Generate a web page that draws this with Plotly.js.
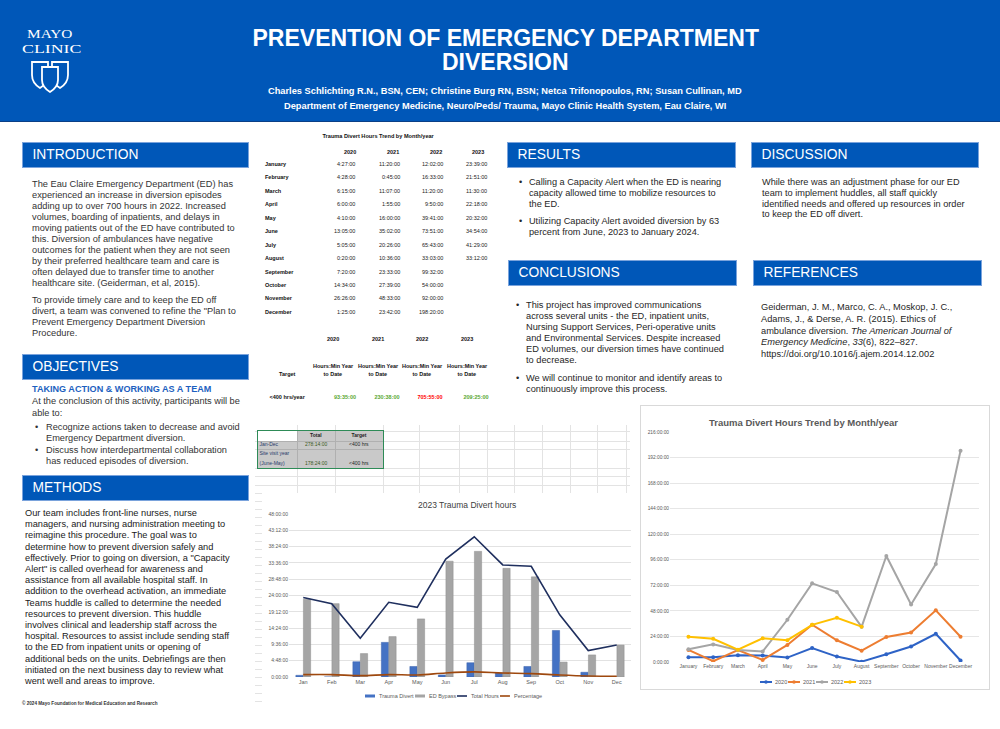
<!DOCTYPE html>
<html><head><meta charset="utf-8">
<script src="https://cdn.plot.ly/plotly-3.0.1.min.js"></script>
<style>
body{margin:0;background:#fff;}
#poster{position:relative;width:1000px;height:729px;overflow:hidden;background:#fff;font-family:'Liberation Sans',Arial,sans-serif;}
.t{position:absolute;white-space:nowrap;line-height:1;}
</style></head><body><div id="poster"></div>
<script>
// ---------------- DATA ----------------
const months = ['January','February','March','April','May','June','July','August','September','October','November','December'];
const monthAbbr = ['Jan','Feb','Mar','Apr','May','Jun','Jul','Aug','Sep','Oct','Nov','Dec'];
const years = ['2020','2021','2022','2023'];
const divert2020 = ['4:27:00','4:28:00','6:15:00','6:00:00','4:10:00','13:05:00','5:05:00','0:20:00','7:20:00','14:34:00','26:26:00','1:25:00'];
const divert2021 = ['11:20:00','0:45:00','11:07:00','1:55:00','16:00:00','35:02:00','20:26:00','10:36:00','23:33:00','27:39:00','48:33:00','23:42:00'];
const divert2022 = ['12:02:00','16:33:00','11:20:00','9:50:00','39:41:00','73:51:00','65:43:00','33:03:00','99:32:00','54:00:00','92:00:00','198:20:00'];
const divert2023 = ['23:39:00','21:51:00','11:30:00','22:18:00','20:32:00','34:54:00','41:29:00','33:12:00'];
const ytdTotals = ['93:35:00','230:38:00','705:55:00','209:25:00'];
const targetText = '<400 hrs/year';
const targetHours = 400;
const summaryLabels = [['Jan-Dec'], ['Site visit year','(June-May)']];
const summaryTotals = ['278:14:00','178:24:00'];
const summaryTargets = ['<400 hrs','<400 hrs'];

// 2023 chart (hours)
const traumaDivert2023 = [0.5, 0, 4.5, 10.2, 3.1, 0.6, 4.2, 1.2, 3.1, 13.7, 1.4, 0];
const edBypass2023 = [22.9, 21.6, 6.9, 11.9, 17.1, 34.1, 37.0, 32.0, 29.5, 4.4, 6.5, 9.4];
const totalHours2023 = [23.4, 21.6, 11.4, 22.0, 20.5, 34.7, 41.3, 33.0, 32.6, 18.3, 7.8, 9.4];
const percentage2023 = [0.7, 0.7, 0.4, 0.7, 0.6, 1.2, 1.5, 1.2, 1.0, 0.6, 0.3, 0.2];
const barSeriesNames = ['Trauma Divert','ED Bypass','Total Hours','Percentage'];
const barTickLabels = ['0:00:00','4:48:00','9:36:00','14:24:00','19:12:00','24:00:00','28:48:00','33:36:00','38:24:00','43:12:00','48:00:00'];
const lineTickLabels = ['0:00:00','24:00:00','48:00:00','72:00:00','96:00:00','120:00:00','144:00:00','168:00:00','192:00:00','216:00:00'];

// ---------------- HELPERS ----------------
const P = document.getElementById('poster');
const FAM = "'Liberation Sans', Arial, sans-serif";
const hrs = s => { const p = s.split(':').map(Number); return p[0] + p[1]/60 + (p[2]||0)/3600; };
const cv = document.createElement('canvas').getContext('2d');
function measure(s, size, bold, fam){ cv.font = (bold?'bold ':'') + size + 'px ' + (fam||FAM); return cv.measureText(s).width; }
function sizeFor(s, w, bold, fam){ return 20 * w / measure(s, 20, bold, fam); }
function txt(x, y, s, o){
  o = o || {};
  const d = document.createElement('div'); d.className = 't';
  d.innerHTML = s;
  const size = o.size || 9.3;
  const lh = o.lh || 1;
  d.style.fontSize = size + 'px';
  d.style.lineHeight = lh;
  d.style.color = o.color || '#262626';
  if (o.bold) d.style.fontWeight = 'bold';
  if (o.italic) d.style.fontStyle = 'italic';
  if (o.family) d.style.fontFamily = o.family;
  d.style.top = (y - 0.55*size + (1-lh)*size/2) + 'px';
  P.appendChild(d);
  let w = d.offsetWidth;
  if (o.fitW){ const sc = o.fitW / w; d.style.transform = 'scaleX(' + sc + ')'; d.style.transformOrigin = 'left top'; w = o.fitW; }
  let left = x;
  if (o.align === 'center') left = x - w/2; else if (o.align === 'right') left = x - w;
  d.style.left = left + 'px';
  return d;
}
function rect(x, y, w, h, css){ const d = document.createElement('div'); d.style.position='absolute'; d.style.left=x+'px'; d.style.top=y+'px'; d.style.width=w+'px'; d.style.height=h+'px'; Object.assign(d.style, css||{}); P.appendChild(d); return d; }
function block(x, y0, dy, lines, size, o){ lines.forEach((l,i)=>{ if(l!==null) txt(x, y0 + i*dy, l, Object.assign({size:size}, o||{})); }); }

// ---------------- HEADER ----------------
rect(0, 0, 1000, 121, {background:'#0057b8', borderBottom:'1px solid #0a3f86'});
const titleSize = sizeFor('PREVENTION OF EMERGENCY DEPARTMENT', 507, true);
txt(505.5, 40, 'PREVENTION OF EMERGENCY DEPARTMENT', {size:titleSize, bold:true, color:'#fff', align:'center'});
txt(505.5, 64, 'DIVERSION', {size:titleSize, bold:true, color:'#fff', align:'center'});
const auth1 = 'Charles Schlichting R.N., BSN, CEN; Christine Burg RN, BSN; Netca Trifonopoulos, RN; Susan Cullinan, MD';
const authSize = sizeFor(auth1, 474, true);
txt(505, 92, auth1, {size:authSize, bold:true, color:'#fff', align:'center'});
txt(505, 107, 'Department of Emergency Medicine, Neuro/Peds/ Trauma, Mayo Clinic Health System, Eau Claire, WI', {size:authSize, bold:true, color:'#fff', align:'center'});
// logo
const SERIF = "'Liberation Serif','DejaVu Serif',serif";
txt(27, 34, 'MAYO', {size:13, color:'#fff', family:SERIF, fitW:46});
txt(22, 49, 'CLINIC', {size:13, color:'#fff', family:SERIF, fitW:59});
const logo = document.createElementNS('http://www.w3.org/2000/svg','svg');
logo.setAttribute('width','42'); logo.setAttribute('height','34');
logo.style.position='absolute'; logo.style.left='30px'; logo.style.top='60px';
logo.innerHTML = '<g fill="#0057b8" stroke="#fff" stroke-width="1.8">'
 + '<path d="M2,2 H18 V15 Q18,23 10,28 Q2,23 2,15 Z"/>'
 + '<path d="M22,2 H38 V15 Q38,23 30,28 Q22,23 22,15 Z"/>'
 + '<path d="M12,7 H28 V20 Q28,27 20,32 Q12,27 12,20 Z"/></g>';
P.appendChild(logo);

// ---------------- SECTION HEADERS ----------------
const hdrSize = sizeFor('INTRODUCTION', 106, false);
function section(x, y, w, label){ rect(x, y, w, 26, {background:'#0057b8', border:'1px solid #7aa3dc', boxSizing:'border-box'}); txt(x+10.5, y+13.5, label, {size:hdrSize, color:'#fff'}); }
section(22, 142, 227, 'INTRODUCTION');
section(22, 354, 227, 'OBJECTIVES');
section(22, 475, 227, 'METHODS');
section(507, 142, 229, 'RESULTS');
section(751, 142, 228, 'DISCUSSION');
section(508, 260, 229, 'CONCLUSIONS');
section(753, 260, 229, 'REFERENCES');

// ---------------- BODY TEXT ----------------
const introLines = ['The Eau Claire Emergency Department (ED) has','experienced an increase in diversion episodes','adding up to over 700 hours in 2022. Increased','volumes, boarding of inpatients, and delays in','moving patients out of the ED have contributed to','this. Diversion of ambulances have negative','outcomes for the patient when they are not seen','by their preferred healthcare team and care is','often delayed due to transfer time to another','healthcare site. (Geiderman, et al, 2015).'];
const introSize = sizeFor(introLines[4], 203, false);
block(32, 185, 11.05, introLines, introSize, {color:'#333'});
block(32, 301, 11.05, ['To provide timely care and to keep the ED off','divert, a team was convened to refine the "Plan to','Prevent Emergency Department Diversion','Procedure.'], introSize, {color:'#333'});

txt(32, 390, 'TAKING ACTION &amp; WORKING AS A TEAM', {size:sizeFor('TAKING ACTION & WORKING AS A TEAM', 181, true), bold:true, color:'#1d5fc0'});
const objSize = sizeFor('At the conclusion of this activity, participants will be', 208, false);
block(32, 402.5, 11.5, ['At the conclusion of this activity, participants will be','able to:'], objSize, {color:'#333'});
txt(35, 428, '•', {size:objSize, color:'#333'}); txt(35, 451, '•', {size:objSize, color:'#333'});
block(46, 428, 11, ['Recognize actions taken to decrease and avoid','Emergency Department diversion.'], objSize, {color:'#333'});
block(46, 451, 11.5, ['Discuss how interdepartmental collaboration','has reduced episodes of diversion.'], objSize, {color:'#333'});

const methodLines = ['Our team includes front-line nurses, nurse','managers, and nursing administration meeting to','reimagine this procedure. The goal was to','determine how to prevent diversion safely and','effectively. Prior to going on diversion, a "Capacity','Alert" is called overhead for awareness and','assistance from all available hospital staff. In','addition to the overhead activation, an immediate','Teams huddle is called to determine the needed','resources to prevent diversion. This huddle','involves clinical and leadership staff across the','hospital. Resources to assist include sending staff','to the ED from inpatient units or opening of','additional beds on the units. Debriefings are then','initiated on the next business day to review what','went well and areas to improve.'];
block(25, 514, 11.2, methodLines, sizeFor(methodLines[4], 205, false), {color:'#1a1a1a'});
txt(22, 705, '© 2024 Mayo Foundation for Medical Education and Research', {size:sizeFor('© 2024 Mayo Foundation for Medical Education and Research', 136, true), bold:true, color:'#333'});

const resSize = sizeFor('Calling a Capacity Alert when the ED is nearing', 193, false);
txt(519, 183, '•', {size:resSize}); txt(519, 222, '•', {size:resSize});
block(529, 183, 10.8, ['Calling a Capacity Alert when the ED is nearing','capacity allowed time to mobilize resources to','the ED.'], resSize);
block(529, 222.5, 11, ['Utilizing Capacity Alert avoided diversion by 63','percent from June, 2023 to January 2024.'], resSize);

const discSize = sizeFor('identified needs and offered up resources in order', 203, false);
block(762, 183, 10.8, ['While there was an adjustment phase for our ED','team to implement huddles, all staff quickly','identified needs and offered up resources in order','to keep the ED off divert.'], discSize);

const concSize = sizeFor('Nursing Support Services, Peri-operative units', 190, false);
txt(516, 306, '•', {size:concSize}); txt(516, 379, '•', {size:concSize});
block(526, 306, 11, ['This project has improved communications','across several units - the ED, inpatient units,','Nursing Support Services, Peri-operative units','and Environmental Services. Despite increased','ED volumes, our diversion times have continued','to decrease.'], concSize);
block(526, 379, 11.2, ['We will continue to monitor and identify areas to','continuously improve this process.'], concSize);

const refSize = sizeFor('Geiderman, J. M., Marco, C. A., Moskop, J. C.,', 192, false);
block(761, 308, 11.8, ['Geiderman, J. M., Marco, C. A., Moskop, J. C.,','Adams, J., &amp; Derse, A. R. (2015). Ethics of','ambulance diversion. <i>The American Journal of</i>','<i>Emergency Medicine</i>, <i>33</i>(6), 822–827.','https://doi.org/10.1016/j.ajem.2014.12.002'], refSize);

// ---------------- TABLES ----------------
const tS = 5.5;
txt(378, 137, 'Trauma Divert Hours Trend by Month/year', {size:5.6, bold:true, color:'#111', align:'center'});
const yearX = [350, 393, 436, 478];
const valRight = [355, 400, 443, 487];
years.forEach((y,i)=> txt(yearX[i], 153, y, {size:tS, bold:true, color:'#111', align:'center'}));
const yearData = [divert2020, divert2021, divert2022, divert2023];
months.forEach((m, r) => {
  const yy = 165 + r*13.45;
  txt(265, yy, m, {size:tS, bold:true, color:'#111'});
  yearData.forEach((arr, c) => { if (arr[r] !== undefined) txt(valRight[c], yy, arr[r], {size:tS, color:'#222', align:'right'}); });
});
const ytdX = [333, 378, 422, 467];
const ytdValX = [345, 387, 430, 476];
years.forEach((y,i)=>{
  txt(ytdX[i], 340, y, {size:tS, bold:true, color:'#111', align:'center'});
  txt(ytdX[i], 367, 'Hours:Min Year', {size:tS, bold:true, color:'#111', align:'center'});
  txt(ytdX[i], 375, 'to Date', {size:tS, bold:true, color:'#111', align:'center'});
  txt(ytdValX[i], 398, ytdTotals[i], {size:tS, bold:true, color: hrs(ytdTotals[i]) > targetHours ? '#ff0000' : '#5aa832', align:'center'});
});
txt(287, 375, 'Target', {size:tS, bold:true, color:'#111', align:'center'});
txt(287, 398, targetText.replace('<','&lt;'), {size:tS, bold:true, color:'#111', align:'center'});

// spreadsheet grid
[431, 441, 449, 468, 476, 485, 493].forEach(y => rect(255, y, 375, 1, {background:'#e3e3e3'}));
[297, 335, 383, 419, 459, 487, 514, 542, 570, 597, 626].forEach(x => rect(x, 425, 1, 68, {background:'#e3e3e3'}));
for (let y = 493; y < 705; y += 8) rect(255, y, 7, 1, {background:'#e3e3e3'});
rect(262, 493, 1, 212, {background:'#e3e3e3'});

// summary table
rect(258, 431, 125, 37, {background:'#c9c9c9'});
rect(258, 431, 39, 10, {background:'#fff'});
[441, 449].forEach(y => rect(258, y, 125, 1, {background:'#b0b0b0'}));
[297, 335].forEach(x => rect(x, 431, 1, 37, {background:'#b0b0b0'}));
rect(257, 430, 127, 39, {border:'1.5px solid #2e8b57', boxSizing:'border-box'});
txt(316, 436, 'Total', {size:5, bold:true, color:'#222', align:'center'});
txt(359, 436, 'Target', {size:5, bold:true, color:'#222', align:'center'});
txt(259.5, 445, summaryLabels[0][0], {size:5, color:'#2a3b6a'});
txt(316, 445, summaryTotals[0], {size:5, color:'#3b5a1c', align:'center'});
txt(359, 445, summaryTargets[0].replace('<','&lt;'), {size:5, color:'#222', align:'center'});
txt(259.5, 454, summaryLabels[1][0], {size:5, color:'#2a3b6a'});
txt(259.5, 464, summaryLabels[1][1], {size:5, color:'#2a3b6a'});
txt(316, 464, summaryTotals[1], {size:5, color:'#3b5a1c', align:'center'});
txt(359, 464, summaryTargets[1].replace('<','&lt;'), {size:5, color:'#222', align:'center'});

// ---------------- BAR CHART (2023) ----------------
function chartDiv(x, y, w, h){ const d = document.createElement('div'); d.style.position='absolute'; d.style.left=x+'px'; d.style.top=y+'px'; d.style.width=w+'px'; d.style.height=h+'px'; P.appendChild(d); return d; }
const BC = {L:262, T:493, W:373, H:212, ml:27, mr:4, mt:21, mb:28};
const bpw = BC.W - BC.ml - BC.mr, bph = BC.H - BC.mt - BC.mb;
const bpx = X => (X - BC.L - BC.ml)/bpw, bpy = Y => 1 - (Y - BC.T - BC.mt)/bph;
const barColors = ['#4472c4', '#a5a5a5', '#1f2f5e', '#9e480e'];
const barDiv = chartDiv(BC.L, BC.T, BC.W, BC.H);
const barTraces = [
  {type:'bar', name:barSeriesNames[0], x:monthAbbr, y:traumaDivert2023, marker:{color:barColors[0], line:{color:'#3a63ad', width:0.5}}},
  {type:'bar', name:barSeriesNames[1], x:monthAbbr, y:edBypass2023, marker:{color:barColors[1], line:{color:'#8e8e8e', width:0.5}}},
  {type:'scatter', mode:'lines', name:barSeriesNames[2], x:monthAbbr, y:totalHours2023, line:{color:barColors[2], width:1.6}},
  {type:'scatter', mode:'lines', name:barSeriesNames[3], x:monthAbbr, y:percentage2023, line:{color:barColors[3], width:1.6, shape:'spline'}}
];
const barLegX = [[365,375,377],[415,425,427],[457,467,469],[500,510,512]];
const barShapes = [], barAnn = [];
barSeriesNames.forEach((n,i)=>{
  const [a,b,t] = barLegX[i];
  if (i < 2) barShapes.push({type:'rect', xref:'paper', yref:'paper', x0:bpx(a), x1:bpx(b), y0:bpy(697.5), y1:bpy(694.5), fillcolor:barColors[i], line:{width:0}});
  else barShapes.push({type:'line', xref:'paper', yref:'paper', x0:bpx(a), x1:bpx(b), y0:bpy(696), y1:bpy(696), line:{color:barColors[i], width:1.6}});
  barAnn.push({xref:'paper', yref:'paper', x:bpx(t), y:bpy(696), xanchor:'left', yanchor:'middle', text:n, showarrow:false, font:{size:5.5, color:'#595959', family:FAM}});
});
barAnn.push({xref:'paper', yref:'paper', x:bpx(467), y:bpy(505), xanchor:'center', yanchor:'middle', text:'2023 Trauma Divert hours', showarrow:false, font:{size:8.5, color:'#404040', family:FAM}});
Plotly.newPlot(barDiv, barTraces, {
  width:BC.W, height:BC.H, margin:{l:BC.ml, r:BC.mr, t:BC.mt, b:BC.mb},
  paper_bgcolor:'#fff', plot_bgcolor:'#fff', showlegend:false,
  barmode:'group', bargap:0.47, bargroupgap:0.04,
  font:{family:FAM, color:'#595959'},
  xaxis:{type:'category', tickangle:0, tickfont:{size:5.5, color:'#595959'}, showgrid:false, zeroline:false, showline:false, ticks:'', fixedrange:true},
  yaxis:{range:[0,48], tickvals:barTickLabels.map(hrs), ticktext:barTickLabels, tickfont:{size:5, color:'#595959'}, gridcolor:'#e2e2e2', gridwidth:1, zeroline:false, showline:false, ticks:'', fixedrange:true},
  shapes:barShapes, annotations:barAnn
}, {staticPlot:true});

// ---------------- LINE CHART (trend by month/year) ----------------
rect(640, 405, 350, 285, {border:'1px solid #d9d9d9', boxSizing:'border-box'});
const LC = {L:641, T:406, W:348, H:283, ml:29, mr:10, mt:26, mb:27};
const lpw = LC.W - LC.ml - LC.mr, lph = LC.H - LC.mt - LC.mb;
const lpx = X => (X - LC.L - LC.ml)/lpw, lpy = Y => 1 - (Y - LC.T - LC.mt)/lph;
const yearColors = ['#2e63c6', '#ed7d31', '#a5a5a5', '#ffc000'];
const lineDiv = chartDiv(LC.L, LC.T, LC.W, LC.H);
const lineTraces = yearData.map((arr,i)=>({type:'scatter', mode:'lines+markers', name:years[i], x:months.slice(0, arr.length), y:arr.map(hrs), line:{color:yearColors[i], width:2}, marker:{color:yearColors[i], size:4}}));
const lineLegX = [[760,772,773],[788,800,801],[816,828,829],[844,856,857]];
const lineShapes = [], lineAnn = [];
years.forEach((n,i)=>{
  const [a,b,t] = lineLegX[i];
  lineShapes.push({type:'line', xref:'paper', yref:'paper', x0:lpx(a), x1:lpx(b), y0:lpy(682), y1:lpy(682), line:{color:yearColors[i], width:2}});
  lineShapes.push({type:'circle', xref:'paper', yref:'paper', x0:lpx((a+b)/2-1.8), x1:lpx((a+b)/2+1.8), y0:lpy(683.8), y1:lpy(680.2), fillcolor:yearColors[i], line:{width:0}});
  lineAnn.push({xref:'paper', yref:'paper', x:lpx(t), y:lpy(682), xanchor:'left', yanchor:'middle', text:n, showarrow:false, font:{size:5.5, color:'#595959', family:FAM}});
});
lineAnn.push({xref:'paper', yref:'paper', x:lpx(803), y:lpy(422), xanchor:'center', yanchor:'middle', text:'<b>Trauma Divert Hours Trend by Month/year</b>', showarrow:false, font:{size:9.5, color:'#595959', family:FAM}});
Plotly.newPlot(lineDiv, lineTraces, {
  width:LC.W, height:LC.H, margin:{l:LC.ml, r:LC.mr, t:LC.mt, b:LC.mb},
  paper_bgcolor:'rgba(0,0,0,0)', plot_bgcolor:'rgba(0,0,0,0)', showlegend:false,
  font:{family:FAM, color:'#595959'},
  xaxis:{type:'category', categoryarray:months, tickangle:0, tickfont:{size:5, color:'#595959'}, showgrid:false, zeroline:false, showline:false, ticks:'', fixedrange:true},
  yaxis:{range:[0,216], tickvals:lineTickLabels.map(hrs), ticktext:lineTickLabels, tickfont:{size:4.8, color:'#595959'}, gridcolor:'#e6e6e6', gridwidth:1.2, zeroline:false, showline:false, ticks:'', fixedrange:true},
  shapes:lineShapes, annotations:lineAnn
}, {staticPlot:true});
</script></body></html>
